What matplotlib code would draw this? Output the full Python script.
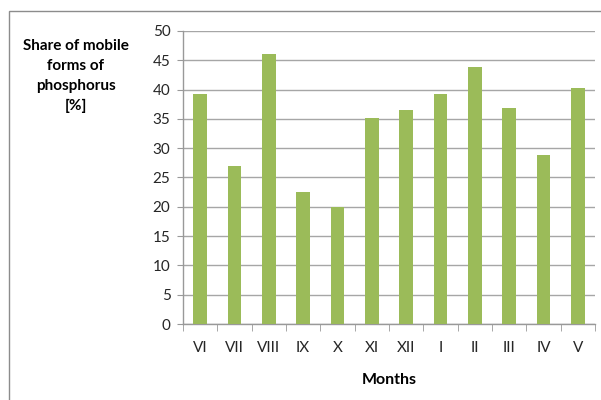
import matplotlib
matplotlib.use("Agg")
import matplotlib.pyplot as plt
from matplotlib.patches import Rectangle
import numpy as np

months = ["VI", "VII", "VIII", "IX", "X", "XI", "XII", "I", "II", "III", "IV", "V"]
share = [39.3, 27.0, 46.0, 22.5, 20.0, 35.2, 36.5, 39.3, 43.8, 36.8, 28.9, 40.2]

plt.rcParams['font.family'] = ['Lato', 'DejaVu Sans']

fig = plt.figure(figsize=(6.01, 4.0), dpi=100)
ax = fig.add_axes([0.3045, 0.19, 0.6855, 0.7325])

x = np.arange(len(months))
ax.bar(x, share, width=0.39, color='#9BBB59', zorder=3)

ax.set_ylim(0, 50)
ax.set_xlim(-0.5, len(months) - 0.5)
ax.set_yticks(np.arange(0, 51, 5))
ax.set_xticks(x)
ax.set_xticklabels(months)
ax.set_xticks(np.arange(-0.5, len(months), 1), minor=True)
ax.tick_params(axis='x', which='major', length=0, pad=12, labelsize=11, colors='#262626')
ax.tick_params(axis='x', which='minor', length=5, color='#999999', direction='out')
ax.tick_params(axis='y', length=4, color='#999999', labelsize=11, labelcolor='#262626', pad=5)

ax.grid(axis='y', color='#A6A6A6', linewidth=1, zorder=0)
for s in ['top', 'right']:
    ax.spines[s].set_visible(False)
for s in ['left', 'bottom']:
    ax.spines[s].set_color('#999999')
    ax.spines[s].set_linewidth(1)

ax.set_xlabel("Months", fontsize=11.5, fontweight='bold', labelpad=13)

fig.text(0.126, 0.81, "Share of mobile\nforms of\nphosphorus\n[%]", ha='center', va='center',
         fontsize=11, fontweight='bold', linespacing=1.55)

fig.patches.append(Rectangle((9 / 601, -0.1), 1.2, 1 - 11 / 400 + 0.1, transform=fig.transFigure,
                             fill=False, edgecolor='#8C8C8C', linewidth=1))

fig.savefig("out.png", dpi=100)
